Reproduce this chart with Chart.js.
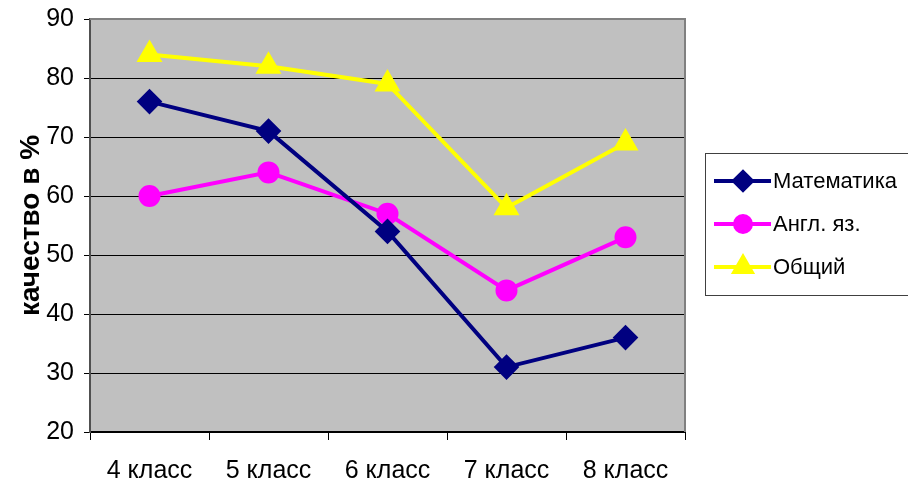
<!DOCTYPE html>
<html>
<head>
<meta charset="utf-8">
<script src="https://cdn.jsdelivr.net/npm/chart.js@4"></script>
<style>
  html, body { margin: 0; padding: 0; background: #fff; }
  #wrap { width: 908px; height: 488px; position: relative; }
</style>
</head>
<body>
<div id="wrap"><canvas id="myChart" width="908" height="488"></canvas></div>
<script>
var classes = ['4 класс', '5 класс', '6 класс', '7 класс', '8 класс'];
var math = [76, 71, 54, 31, 36];
var english = [60, 64, 57, 44, 53];
var overall = [84, 82, 79, 58, 69];
var seriesNames = ['Математика', 'Англ. яз.', 'Общий'];

var FONT = "'Liberation Sans Narrow', 'Arial Narrow', 'Liberation Sans', Arial, sans-serif";

// gray plot background
var plotBg = {
    id: 'plotBg',
    beforeDraw: function (chart) {
        var a = chart.chartArea, ctx = chart.ctx;
        ctx.save();
        ctx.fillStyle = '#c0c0c0';
        ctx.fillRect(a.left, a.top, a.right - a.left, a.bottom - a.top);
        ctx.restore();
    },
    afterDatasetsDraw: function (chart) {
        var a = chart.chartArea, ctx = chart.ctx;
        ctx.save();
        ctx.strokeStyle = '#808080';
        ctx.lineWidth = 2;
        ctx.beginPath();
        ctx.moveTo(a.left, a.top);
        ctx.lineTo(a.right, a.top);
        ctx.lineTo(a.right, a.bottom);
        ctx.stroke();
        ctx.restore();
    }
};

// legend box with line + marker
var boxLegend = {
    id: 'boxLegend',
    afterDraw: function (chart) {
        var ctx = chart.ctx;
        var x = 705, y = 153, w = 210, h = 142;
        ctx.save();
        ctx.strokeStyle = '#404040';
        ctx.lineWidth = 1;
        ctx.strokeRect(x + 0.5, y + 0.5, w, h);
        chart.data.datasets.forEach(function (ds, i) {
            var cy = y + 28 + i * 43;
            ctx.strokeStyle = ds.borderColor;
            ctx.lineWidth = 4;
            ctx.beginPath();
            ctx.moveTo(x + 9, cy);
            ctx.lineTo(x + 66, cy);
            ctx.stroke();
            ctx.fillStyle = ds.pointBackgroundColor;
            ctx.strokeStyle = ds.pointBorderColor;
            Chart.helpers.drawPoint(ctx, {
                pointStyle: ds.pointStyle,
                radius: ds.pointRadius - 1,
                borderWidth: 1
            }, x + 38, cy);
            ctx.fillStyle = '#000';
            ctx.font = '22px ' + FONT;
            ctx.textBaseline = 'middle';
            ctx.fillText(ds.label, x + 68, cy + 1);
        });
        ctx.restore();
    }
};

function makeSet(label, data, color, style, r) {
    return {
        label: label,
        data: data,
        borderColor: color,
        backgroundColor: color,
        pointBackgroundColor: color,
        pointBorderColor: color,
        borderWidth: 4,
        pointStyle: style,
        pointRadius: r,
        pointHoverRadius: r,
        tension: 0
    };
}

var ctx = document.getElementById('myChart').getContext('2d');
var myChart = new Chart(ctx, {
    type: 'line',
    data: {
        labels: classes,
        datasets: [
            makeSet(seriesNames[0], math, '#000080', 'rectRot', 10),
            makeSet(seriesNames[1], english, '#ff00ff', 'circle', 9),
            makeSet(seriesNames[2], overall, '#ffff00', 'triangle', 11)
        ]
    },
    options: {
        responsive: false,
        animation: false,
        layout: { padding: { top: 19, right: 223, left: 0, bottom: 0 } },
        plugins: {
            legend: { display: false },
            tooltip: { enabled: false }
        },
        scales: {
            x: {
                offset: true,
                afterFit: function (scale) {
                    scale.height = 56;
                    scale.paddingLeft = 0;
                    scale.paddingRight = 0;
                },
                grid: {
                    offset: true,
                    drawOnChartArea: false,
                    color: '#000',
                    tickLength: 8,
                    lineWidth: 1
                },
                border: { color: '#000', width: 2 },
                ticks: {
                    color: '#000',
                    font: { family: FONT, size: 25 },
                    padding: 16
                }
            },
            y: {
                min: 20,
                max: 90,
                afterFit: function (scale) {
                    scale.width = 90;
                    scale.paddingTop = 0;
                    scale.paddingBottom = 0;
                },
                grid: {
                    color: '#000',
                    lineWidth: 1,
                    tickLength: 6
                },
                border: { color: '#505050', width: 2 },
                ticks: {
                    stepSize: 10,
                    color: '#000',
                    font: { family: FONT, size: 25 },
                    padding: 10
                },
                title: {
                    display: true,
                    text: 'качество в %',
                    color: '#000',
                    font: { family: "'Liberation Sans', Arial, sans-serif", size: 28, weight: 'bold' },
                    padding: { top: 14, bottom: 0 }
                }
            }
        }
    },
    plugins: [plotBg, boxLegend]
});
</script>
</body>
</html>
